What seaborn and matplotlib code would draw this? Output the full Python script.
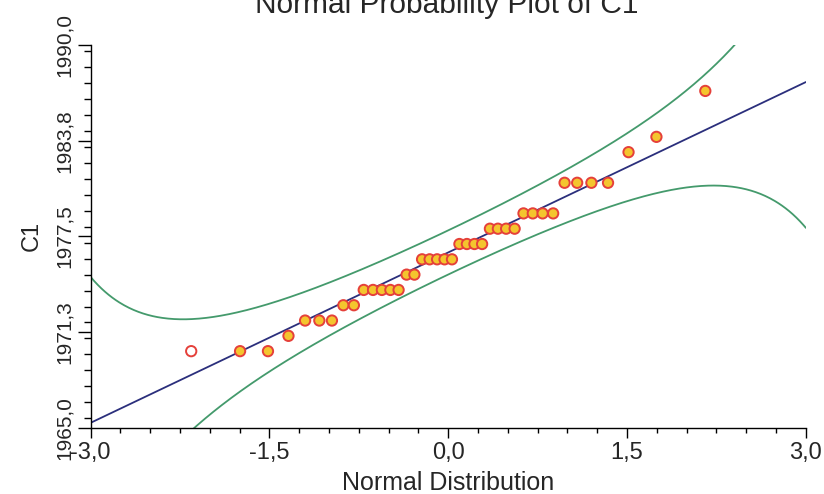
import numpy as np
import pandas as pd
import matplotlib
matplotlib.use("Agg")
import matplotlib.pyplot as plt
import seaborn as sns
from matplotlib.ticker import MultipleLocator
from statistics import NormalDist

# ---- data ----
VALUE_LEVELS = [1970, 1971, 1972, 1973, 1974, 1975, 1976, 1977, 1978, 1979, 1981, 1983, 1984, 1987]
LEVEL_COUNTS = [3, 1, 3, 2, 5, 2, 5, 4, 4, 4, 4, 1, 1, 1]
FIT_MEAN = 1976.45      # fitted line location
FIT_SD = 3.71           # fitted line scale
CONF_Z = 1.96           # 95 % pointwise band

X_TICKS = [-3.0, -1.5, 0.0, 1.5, 3.0]
X_TICK_LABELS = ["-3,0", "-1,5", "0,0", "1,5", "3,0"]
Y_TICKS = [1965.0, 1971.25, 1977.5, 1983.75, 1990.0]
Y_TICK_LABELS = ["1965,0", "1971,3", "1977,5", "1983,8", "1990,0"]
TITLE = "Normal Probability Plot of C1"
X_LABEL = "Normal Distribution"
Y_LABEL = "C1"

# ---- derived plotting positions / fitted curves ----
nd = NormalDist()
c1 = np.sort(np.repeat(VALUE_LEVELS, LEVEL_COUNTS).astype(float))
n = len(c1)
ranks = np.arange(1, n + 1)
scores = np.array([nd.inv_cdf((i - 0.375) / (n + 0.25)) for i in ranks])
points = pd.DataFrame({"z": scores, "C1": c1})

zgrid = np.linspace(-3, 3, 601)
p = np.array([nd.cdf(z) for z in zgrid])
dens = np.array([nd.pdf(z) for z in zgrid])
fit = FIT_MEAN + FIT_SD * zgrid
half = CONF_Z * FIT_SD / np.sqrt(n) * np.sqrt(p * (1 - p)) / dens
curves = pd.DataFrame({"z": zgrid, "fit": fit, "upper": fit + half, "lower": fit - half})

# ---- styling ----
sns.set_theme(style="ticks")
plt.rcParams["font.family"] = ["Liberation Sans", "DejaVu Sans"]

LINE_COLOR = "#2b2f7c"
BAND_COLOR = "#449a6c"
FILL_COLOR = "#f4c52e"
EDGE_COLOR = "#e5403a"

fig = plt.figure(figsize=(8.24, 4.94), dpi=100)
ax = fig.add_axes([0.110, 0.1342, 0.868, 0.7747])

sns.lineplot(data=curves, x="z", y="upper", color=BAND_COLOR, lw=1.3, ax=ax)
sns.lineplot(data=curves, x="z", y="lower", color=BAND_COLOR, lw=1.3, ax=ax)
sns.lineplot(data=curves, x="z", y="fit", color=LINE_COLOR, lw=1.3, ax=ax)
sns.scatterplot(data=points, x="z", y="C1", s=55, color=FILL_COLOR,
                edgecolor=EDGE_COLOR, linewidth=1.4, ax=ax, zorder=4, legend=False)
coll = ax.collections[-1]
faces = [FILL_COLOR] * n
faces[0] = "white"
coll.set_facecolors(faces)

ax.set_xlim(-3, 3)
ax.set_ylim(1965, 1990)
ax.set_xticks(X_TICKS)
ax.set_xticklabels(X_TICK_LABELS)
ax.set_yticks(Y_TICKS)
ax.set_yticklabels(Y_TICK_LABELS, rotation=90, va="center")
ax.xaxis.set_minor_locator(MultipleLocator(0.25))
ax.yaxis.set_minor_locator(MultipleLocator(25 / 24))

ax.tick_params(axis="x", which="major", direction="out", length=7.5, width=1,
               labelsize=17, pad=3, color="black")
ax.tick_params(axis="x", which="minor", direction="out", length=3.5, width=1, color="black")
ax.tick_params(axis="y", which="major", direction="out", length=9.5, width=1,
               labelsize=15, pad=2.5, color="black")
ax.tick_params(axis="y", which="minor", direction="out", length=5, width=1, color="black")

sns.despine(ax=ax)
for s in ("left", "bottom"):
    ax.spines[s].set_color("black")
    ax.spines[s].set_linewidth(1.0)

ax.set_xlabel(X_LABEL, fontsize=18, va="baseline")
ax.xaxis.set_label_coords(0.5, -0.1615)
ax.set_ylabel(Y_LABEL, fontsize=17, va="center")
ax.yaxis.set_label_coords(-0.082, 0.5)

fig.text(447 / 824, 1 - 13 / 494, TITLE, ha="center", va="baseline", fontsize=21.5)

fig.savefig("out.png", dpi=100)
